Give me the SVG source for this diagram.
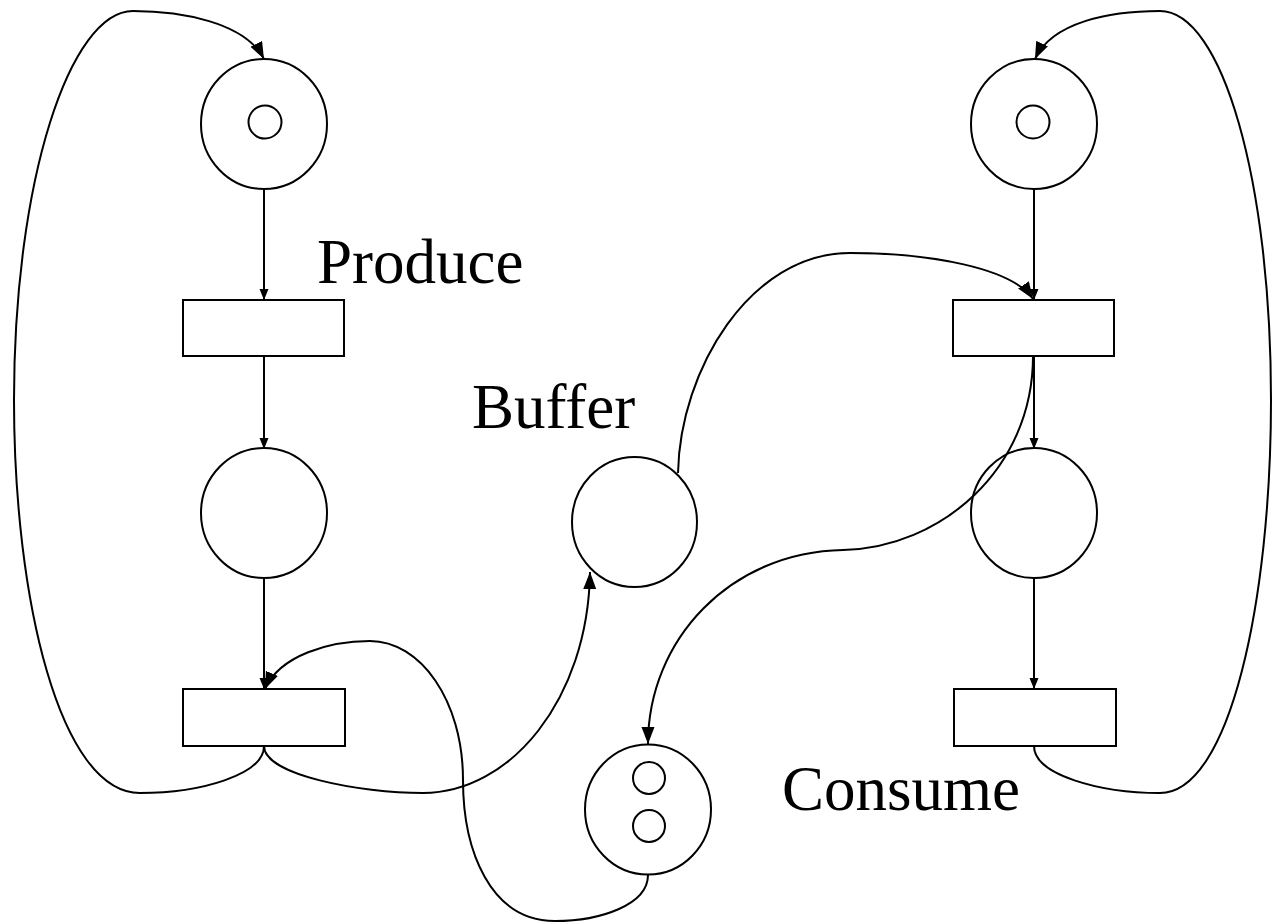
<svg xmlns="http://www.w3.org/2000/svg" width="1272" height="924" viewBox="0 0 1272 924">
  <style>
    .place { fill: none; stroke: #000; stroke-width: 2; }
    .token { fill: none; stroke: #000; stroke-width: 2; }
    .trans { fill: #fff; stroke: #000; stroke-width: 2; }
    .arc { fill: none; stroke: #000; stroke-width: 2; }
    .label { font-family: "Liberation Serif", "Times New Roman", serif; font-size: 63px; fill: #000; }
  </style>
  <defs>
    <marker id="tip-s" markerUnits="userSpaceOnUse" markerWidth="11" markerHeight="10" refX="11" refY="5" orient="auto">
      <path d="M0,0.5 L11,5 L0,9.5 z" fill="#000"/>
    </marker>
    <marker id="tip-l" markerUnits="userSpaceOnUse" markerWidth="17" markerHeight="14" refX="17" refY="7" orient="auto">
      <path d="M0,0.5 L17,7 L0,13.5 z" fill="#000"/>
    </marker>
  </defs>
  <rect width="1272" height="924" fill="#fff"/>

  <!-- arcs -->
  <g id="connectors">
    <line class="arc" x1="264" y1="189" x2="264" y2="300" marker-end="url(#tip-s)"/>
    <line class="arc" x1="264" y1="356" x2="264" y2="449" marker-end="url(#tip-s)"/>
    <line class="arc" x1="264" y1="578" x2="264" y2="689" marker-end="url(#tip-s)"/>
    <line class="arc" x1="1034" y1="189" x2="1034" y2="300" marker-end="url(#tip-s)"/>
    <line class="arc" x1="1034" y1="356" x2="1034" y2="449" marker-end="url(#tip-s)"/>
    <line class="arc" x1="1034" y1="578" x2="1034" y2="689" marker-end="url(#tip-s)"/>
    <!-- producer loop back -->
    <path class="arc" d="M264,746 C264,775 200,793 140,793 C60,793 14,600 14,400 C14,180 70,11 133,11 C180,11 245,22 264,59" marker-end="url(#tip-l)"/>
    <!-- produce into buffer -->
    <path class="arc" d="M264,746 C264,775 360,793 423,793 C510,793 588,700 590,572" marker-end="url(#tip-l)"/>
    <!-- empty slots back to producer -->
    <path class="arc" d="M648,875 C648,905 600,921 555,921 C490,921 463,850 463,780 C463,700 420,641 370,641 C330,641 280,655 265,689" marker-end="url(#tip-l)"/>
    <!-- buffer into consumer -->
    <path class="arc" d="M678,473 C680,370 750,253 850,253 C930,253 1012,268 1033,299" marker-end="url(#tip-l)"/>
    <!-- consumer frees a slot -->
    <path class="arc" d="M1033,356 C1033,470 940,548 843,550 C730,552 648,640 648,744" marker-end="url(#tip-l)"/>
    <!-- consumer loop back -->
    <path class="arc" d="M1034,746 C1034,775 1100,793 1160,793 C1230,793 1271,600 1271,400 C1271,180 1222,11 1160,11 C1110,11 1052,22 1035,59" marker-end="url(#tip-l)"/>
  </g>

  <!-- producer side -->
  <g id="p-ready">
    <ellipse class="place" cx="264" cy="124" rx="63" ry="65"/>
    <circle class="token" cx="265" cy="122" r="16.5"/>
  </g>
  <g id="t-produce">
    <rect class="trans" x="183" y="300" width="161" height="56"/>
  </g>
  <g id="p-produced">
    <ellipse class="place" cx="264" cy="513" rx="63" ry="65"/>
  </g>
  <g id="t-put">
    <rect class="trans" x="183" y="689" width="162" height="57"/>
  </g>

  <!-- buffer -->
  <g id="p-buffer">
    <ellipse class="place" cx="634.5" cy="522" rx="62.5" ry="65"/>
  </g>
  <g id="p-slots">
    <ellipse class="place" cx="648" cy="809.5" rx="63" ry="65"/>
    <circle class="token" cx="649" cy="778" r="16"/>
    <circle class="token" cx="649" cy="826" r="16"/>
  </g>

  <!-- consumer side -->
  <g id="c-ready">
    <ellipse class="place" cx="1034" cy="124" rx="63" ry="65"/>
    <circle class="token" cx="1033" cy="122" r="16.5"/>
  </g>
  <g id="t-take">
    <rect class="trans" x="953" y="300" width="161" height="56"/>
  </g>
  <g id="c-taken">
    <ellipse class="place" cx="1034" cy="513" rx="63" ry="65"/>
  </g>
  <g id="t-consume">
    <rect class="trans" x="954" y="689" width="162" height="57"/>
  </g>

  <!-- labels -->
  <g id="labels">
    <text class="label" x="317" y="283">Produce</text>
    <text class="label" x="472" y="428">Buffer</text>
    <text class="label" x="782" y="810">Consume</text>
  </g>
</svg>
